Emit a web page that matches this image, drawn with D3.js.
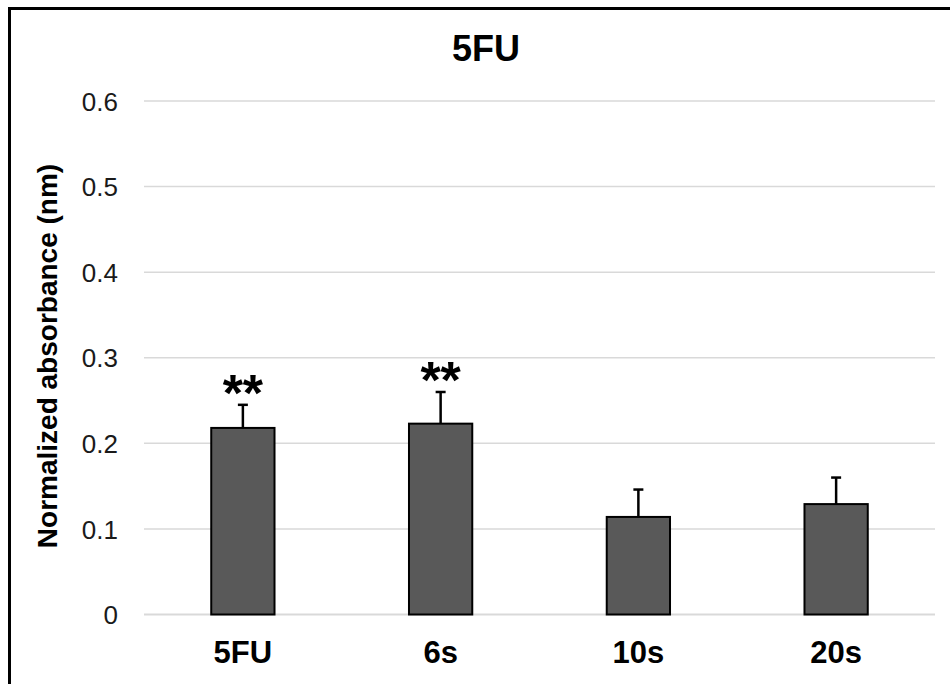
<!DOCTYPE html>
<html>
<head>
<meta charset="utf-8">
<script src="https://cdn.jsdelivr.net/npm/d3@7"></script>
<style>
  html, body { margin: 0; padding: 0; background: #fff; }
  svg { display: block; }
</style>
</head>
<body>
<svg id="chart" width="950" height="684"></svg>
<script>
const categories = ["5FU", "6s", "10s", "20s"];
const values = [0.218, 0.223, 0.114, 0.129];
const errors = [0.027, 0.037, 0.032, 0.031];
const significance = ["**", "**", "", ""];
const yTicks = [0, 0.1, 0.2, 0.3, 0.4, 0.5, 0.6];
const chartTitle = "5FU";
const yTitle = "Normalized absorbance (nm)";

const W = 950, H = 684;
const svg = d3.select("#chart");
const font = "'Liberation Sans', Arial, sans-serif";

// frame (cropped border)
svg.append("rect")
  .attr("x", 9.5).attr("y", 8.5)
  .attr("width", W + 20).attr("height", H + 20)
  .attr("fill", "#fff").attr("stroke", "#000").attr("stroke-width", 3);

const x = d3.scaleBand().domain(categories).range([144, 935])
  .paddingInner(0.68).paddingOuter(0.34);
const y = d3.scaleLinear().domain([0, 0.6]).range([614.5, 101]);

// gridlines
svg.append("g").selectAll("line").data(yTicks).join("line")
  .attr("x1", 144).attr("x2", 935)
  .attr("y1", d => y(d)).attr("y2", d => y(d))
  .attr("stroke", "#d9d9d9").attr("stroke-width", d => d === 0 ? 2 : 1.5);

// y tick labels
const yAxis = d3.axisLeft(y).tickValues(yTicks).tickSize(0).tickPadding(0)
  .tickFormat(d => d === 0 ? "0" : d3.format(".1f")(d));
const ya = svg.append("g").attr("transform", "translate(118,0)").call(yAxis);
ya.select(".domain").remove();
ya.selectAll("text").attr("font-family", font).attr("font-size", 26)
  .attr("fill", "#1a1a1a").attr("dy", "0.35em");

// x labels
const xAxis = d3.axisBottom(x).tickSize(0).tickPadding(0);
const xa = svg.append("g").attr("transform", "translate(0,663)").call(xAxis);
xa.select(".domain").remove();
xa.selectAll("text").attr("font-family", font).attr("font-size", 31)
  .attr("font-weight", "bold").attr("fill", "#000").attr("dy", 0);

// bars
svg.append("g").selectAll("rect").data(categories).join("rect")
  .attr("x", d => x(d)).attr("width", x.bandwidth())
  .attr("y", (d, i) => y(values[i]))
  .attr("height", (d, i) => y(0) - y(values[i]))
  .attr("fill", "#595959").attr("stroke", "#000").attr("stroke-width", 2);

// error bars
const eg = svg.append("g").attr("stroke", "#000").attr("stroke-width", 2.5);
categories.forEach((c, i) => {
  const cx = x(c) + x.bandwidth() / 2;
  eg.append("line").attr("x1", cx).attr("x2", cx)
    .attr("y1", y(values[i])).attr("y2", y(values[i] + errors[i]));
  eg.append("line").attr("x1", cx - 5).attr("x2", cx + 5)
    .attr("y1", y(values[i] + errors[i])).attr("y2", y(values[i] + errors[i]));
});

// significance markers
svg.append("g").selectAll("text").data(categories).join("text")
  .attr("x", d => x(d) + x.bandwidth() / 2)
  .attr("y", (d, i) => y(values[i] + errors[i]) + 6)
  .attr("text-anchor", "middle")
  .attr("font-family", font).attr("font-size", 52).attr("font-weight", "bold")
  .text((d, i) => significance[i]);

// title
svg.append("text").attr("x", 486).attr("y", 61)
  .attr("text-anchor", "middle").attr("font-family", font)
  .attr("font-size", 36).attr("font-weight", "bold").text(chartTitle);

// y title
svg.append("text")
  .attr("transform", "translate(57,356) rotate(-90)")
  .attr("text-anchor", "middle").attr("font-family", font)
  .attr("font-size", 28).attr("font-weight", "bold").text(yTitle);
</script>
</body>
</html>
